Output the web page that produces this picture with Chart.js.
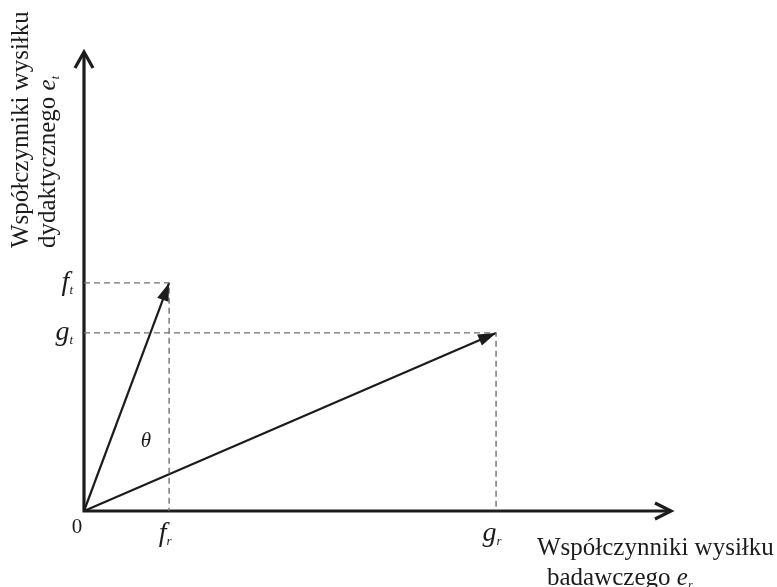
<!DOCTYPE html>
<html lang="pl">
<head>
<meta charset="UTF-8">
<title>Wektory wysiłku</title>
<script src="https://cdn.jsdelivr.net/npm/chart.js"></script>
<style>
    body { margin: 0; background: #fff; }
    .wrap { width: 777px; height: 587px; position: relative; }
</style>
</head>
<body>
<div class="wrap"><canvas id="chart"></canvas></div>
<script>
    // wektory f i g: składowa badawcza (r) i dydaktyczna (t)
    const vectorNames = ['f', 'g'];
    const researchValues = [1.45, 7.02];
    const teachingValues = [4.97, 3.88];
    const axisMax = { x: 10, y: 10 };

    const serif = '"Liberation Serif", "DejaVu Serif", serif';
    const ink = '#1c1c1c';

    const datasets = [];
    vectorNames.forEach((name, i) => {
        datasets.push({
            label: name + ' guide',
            data: [{ x: 0, y: teachingValues[i] }, { x: researchValues[i], y: teachingValues[i] }, { x: researchValues[i], y: 0 }],
            showLine: true, borderColor: '#707070', borderWidth: 1.4, borderDash: [6, 4],
            pointRadius: 0, clip: false
        });
    });
    vectorNames.forEach((name, i) => {
        datasets.push({
            label: name,
            data: [{ x: 0, y: 0 }, { x: researchValues[i], y: teachingValues[i] }],
            showLine: true, borderColor: ink, borderWidth: 2.2,
            pointRadius: 0, clip: false
        });
    });
    datasets.push({
        label: 'axes',
        data: [{ x: 0, y: axisMax.y }, { x: 0, y: 0 }, { x: axisMax.x, y: 0 }],
        showLine: true, borderColor: ink, borderWidth: 3.2, borderJoinStyle: 'miter',
        pointRadius: 0, clip: false
    });

    // tekst z kursywą i indeksem dolnym
    function subText(ctx, x, y, main, sub, size, align) {
        const subSize = Math.round(size * 0.48);
        ctx.font = 'italic ' + size + 'px ' + serif;
        const w1 = ctx.measureText(main).width;
        ctx.font = 'italic ' + subSize + 'px ' + serif;
        const w2 = ctx.measureText(sub).width;
        let start = x;
        if (align === 'right') start = x - w1 - w2;
        if (align === 'center') start = x - (w1 + w2) / 2;
        ctx.textAlign = 'left';
        ctx.font = 'italic ' + size + 'px ' + serif;
        ctx.fillText(main, start, y);
        ctx.font = 'italic ' + subSize + 'px ' + serif;
        ctx.fillText(sub, start + w1, y + size * 0.14);
        return start + w1 + w2;
    }

    const decorations = {
        id: 'decorations',
        afterDatasetsDraw(chart) {
            const ctx = chart.ctx;
            const xs = chart.scales.x, ys = chart.scales.y;
            const x0 = xs.getPixelForValue(0), y0 = ys.getPixelForValue(0);
            ctx.save();
            ctx.fillStyle = ink;
            ctx.strokeStyle = ink;

            // groty osi
            ctx.lineWidth = 3.2;
            const yTop = ys.getPixelForValue(axisMax.y);
            ctx.beginPath();
            ctx.moveTo(x0 - 9, yTop + 16); ctx.lineTo(x0, yTop); ctx.lineTo(x0 + 9, yTop + 16);
            ctx.stroke();
            const xEnd = xs.getPixelForValue(axisMax.x);
            ctx.beginPath();
            ctx.moveTo(xEnd - 16, y0 - 8); ctx.lineTo(xEnd, y0); ctx.lineTo(xEnd - 16, y0 + 8);
            ctx.stroke();

            // groty wektorów
            vectorNames.forEach((name, i) => {
                const px = xs.getPixelForValue(researchValues[i]);
                const py = ys.getPixelForValue(teachingValues[i]);
                const a = Math.atan2(py - y0, px - x0);
                const len = 18, half = 6;
                ctx.beginPath();
                ctx.moveTo(px, py);
                ctx.lineTo(px - len * Math.cos(a) + half * Math.sin(a), py - len * Math.sin(a) - half * Math.cos(a));
                ctx.lineTo(px - len * Math.cos(a) - half * Math.sin(a), py - len * Math.sin(a) + half * Math.cos(a));
                ctx.closePath();
                ctx.fill();

                // etykiety na osiach
                subText(ctx, x0 - 11, py + 7, name, 't', 28, 'right');
                subText(ctx, px - 4, y0 + 30, name, 'r', 28, 'center');
            });

            ctx.font = '21px ' + serif;
            ctx.textAlign = 'center';
            ctx.fillText('0', x0 - 7, y0 + 22);

            ctx.font = 'italic 21px ' + serif;
            ctx.fillText('θ', 146, 447);

            // tytuł osi X
            ctx.textAlign = 'left';
            ctx.font = '25px ' + serif;
            ctx.fillText('Współczynniki wysiłku', 537, 555);
            const bw = ctx.measureText('badawczego ').width;
            ctx.fillText('badawczego ', 547, 585);
            subText(ctx, 547 + bw, 585, 'e', 'r', 25, 'left');

            // tytuł osi Y
            ctx.translate(28, 248);
            ctx.rotate(-Math.PI / 2);
            ctx.font = '25px ' + serif;
            ctx.fillText('Współczynniki wysiłku', 0, 0);
            const dw = ctx.measureText('dydaktycznego ').width;
            ctx.fillText('dydaktycznego ', 0, 27);
            subText(ctx, dw, 27, 'e', 't', 25, 'left');
            ctx.restore();
        }
    };

    new Chart(document.getElementById('chart'), {
        type: 'scatter',
        data: { datasets: datasets },
        options: {
            responsive: true,
            maintainAspectRatio: false,
            animation: false,
            layout: { padding: { left: 84, right: 106, top: 52, bottom: 76 } },
            scales: {
                x: { type: 'linear', min: 0, max: axisMax.x, display: false },
                y: { type: 'linear', min: 0, max: axisMax.y, display: false }
            },
            plugins: { legend: { display: false }, tooltip: { enabled: false } }
        },
        plugins: [decorations]
    });
</script>
</body>
</html>
